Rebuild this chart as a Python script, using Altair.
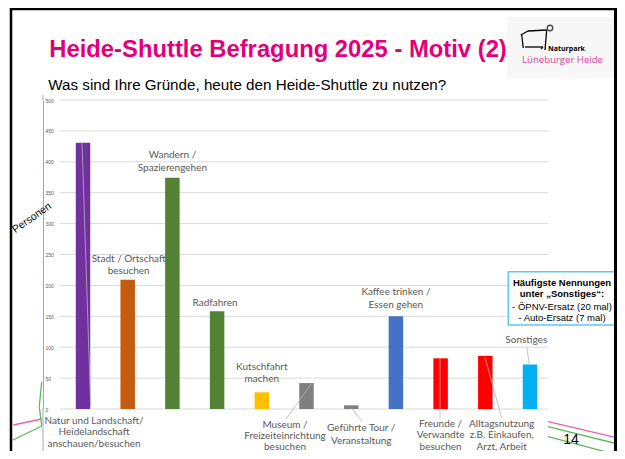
import altair as alt
import pandas as pd

# ---------------- data ----------------
categories = [
    "Natur und Landschaft",
    "Stadt / Ortschaft besuchen",
    "Wandern / Spazierengehen",
    "Radfahren",
    "Kutschfahrt machen",
    "Museum / Freizeiteinrichtung besuchen",
    "Geführte Tour / Veranstaltung",
    "Kaffee trinken / Essen gehen",
    "Freunde / Verwandte besuchen",
    "Alltagsnutzung",
    "Sonstiges",
]
values = [431, 209, 374, 158, 27, 42, 6, 150, 82, 86, 72]
label_texts = [
    "Natur und Landschaft/\nHeidelandschaft\nanschauen/besuchen",
    "Stadt / Ortschaft\nbesuchen",
    "Wandern /\nSpazierengehen",
    "Radfahren",
    "Kutschfahrt\nmachen",
    "Museum /\nFreizeiteinrichtung\nbesuchen",
    "Geführte Tour /\nVeranstaltung",
    "Kaffee trinken /\nEssen gehen",
    "Freunde /\nVerwandte\nbesuchen",
    "Alltagsnutzung\nz.B. Einkaufen,\nArzt, Arbeit",
    "Sonstiges",
]
y_ticks = [0, 50, 100, 150, 200, 250, 300, 350, 400, 450, 500]
title_text = "Heide-Shuttle Befragung 2025 - Motiv (2)"
subtitle_text = "Was sind Ihre Gründe, heute den Heide-Shuttle zu nutzen?"
box_lines_bold = ["Häufigste Nennungen", "unter „Sonstiges“:"]
box_lines = ["- ÖPNV-Ersatz (20 mal)", "- Auto-Ersatz (7 mal)"]

# ---------------- style / layout ----------------
bar_colors = ["#7030a0", "#c55a11", "#548235", "#548235", "#ffc000", "#7f7f7f",
              "#7f7f7f", "#4472c4", "#ff0000", "#ff0000", "#00b0f0"]
# (dx px, anchor 'top' of bar or 'base', dy px, line height)
label_layout = [
    (11, "base", 6.5, 11.8), (1, "top", -26.3, 12.7), (0, "top", -27.4, 12.7), (-2, "top", -13.2, 12.7),
    (0, "top", -30.8, 12.7), (-21.5, "base", 11.0, 11.0), (10, "base", 14.3, 12.4), (0, "top", -29.1, 12.7),
    (0, "base", 10.0, 11.3), (16.4, "base", 10.0, 11.3), (-3.7, "top", -29.7, 12.7),
]
W, H = 609, 443
PINK = "#e2007a"
LABEL_GRAY = "#595959"

xsc = alt.Scale(domain=categories, range=[52.65, 544.35], paddingInner=0.676, paddingOuter=0.338)
ysc = alt.Scale(domain=[0, 500], range=[401, 92])
yax = alt.Axis(
    orient="left", offset=-35, values=y_ticks, domain=True, domainColor="#a6a6a6",
    ticks=False, labelAlign="left", labelPadding=-2, labelFontSize=5,
    labelColor=LABEL_GRAY, labelFont="Liberation Sans", grid=False, title=None)

bars_df = pd.DataFrame({"cat": categories, "v": values})

# grid
grid = alt.Chart(pd.DataFrame({"v": y_ticks})).mark_rule(color="#d9d9d9", strokeWidth=1).encode(
    y=alt.Y("v:Q", scale=ysc, axis=yax),
    x=alt.value(52), x2=alt.value(540),
)

bars = alt.Chart(bars_df).mark_bar().encode(
    x=alt.X("cat:N", scale=xsc, axis=None, sort=None),
    y=alt.Y("v:Q", scale=ysc, axis=yax),
    color=alt.Color("cat:N", scale=alt.Scale(domain=categories, range=bar_colors), legend=None),
)

layers = [grid, bars]

# category labels
for cat, val, txt_, (dx, anchor, dy, lh) in zip(categories, values, label_texts, label_layout):
    d = pd.DataFrame({"cat": [cat], "v": [val if anchor == "top" else 0], "t": [txt_]})
    layers.append(
        alt.Chart(d).mark_text(
            dx=dx, dy=dy, baseline="top", align="center", lineBreak="\n", lineHeight=lh,
            font="Lato", fontSize=10, color=LABEL_GRAY,
        ).encode(x=alt.X("cat:N", scale=xsc, axis=None), y=alt.Y("v:Q", scale=ysc, axis=yax), text="t:N")
    )

def seg(x1, y1, x2, y2, color, w=1.0):
    return alt.Chart(pd.DataFrame({"a": [0]})).mark_rule(color=color, strokeWidth=w).encode(
        x=alt.value(x1), y=alt.value(y1), x2=alt.value(x2), y2=alt.value(y2))

def txt(x, y, s, size, color="black", weight="normal", font="Liberation Sans", align="left",
        baseline="alphabetic", angle=0):
    kw = dict(fontSize=size, color=color, fontWeight=weight, font=font, align=align, baseline=baseline)
    if angle:
        kw["angle"] = angle
    return alt.Chart(pd.DataFrame({"a": [0]})).mark_text(**kw).encode(
        x=alt.value(x), y=alt.value(y), text=alt.value(s))

# leader lines
LEAD = "#b4b4b4"
for x1, y1, x2, y2 in [(74, 134, 82.7, 399), (303.7, 375.3, 278, 411.3), (343.7, 400.3, 354.3, 413.7),
                       (432, 350, 432, 410), (477, 349.3, 493.7, 410), (518.7, 338.7, 521.3, 356.3)]:
    layers.append(seg(x1, y1, x2, y2, LEAD, 0.8))

# axis line extension
layers.append(seg(35, 401, 35, 443, "#a6a6a6", 1))
layers.append(seg(35, 87, 35, 92, "#a6a6a6", 1))

# axis title
layers.append(txt(24, 210, "Personen", 10.5, align="center", baseline="middle", angle=325))

# titles
layers.append(txt(41.3, 48.7, title_text, 23.8, color=PINK, weight="bold"))
layers.append(txt(40.3, 82, subtitle_text, 15.2))

# info box
box = alt.Chart(pd.DataFrame({"a": [0]})).mark_rect(fill="white", stroke="#5bc8ef", strokeWidth=1.5).encode(
    x=alt.value(500.3), x2=alt.value(622), y=alt.value(263.7), y2=alt.value(317))
layers.append(box)
for i, s in enumerate(box_lines_bold):
    layers.append(txt(554, 274.7 + i * 10.8, s, 9.5, weight="bold", align="center", baseline="middle"))
for i, s in enumerate(box_lines):
    layers.append(txt(554, 298.7 + i * 11.6, s, 9.5, align="center", baseline="middle"))

# logo
logo_bg = alt.Chart(pd.DataFrame({"a": [0]})).mark_rect(fill="#f7f7f7").encode(
    x=alt.value(499), x2=alt.value(608), y=alt.value(9), y2=alt.value(70))
layers.append(logo_bg)
for s in [(512.7, 27, 520, 23), (520, 23, 538.7, 22), (513.7, 27, 515.3, 40), (517, 39, 535, 39),
          (538.7, 22, 537, 42), (535, 39, 533, 41)]:
    layers.append(seg(*s, "black", 1.3))
layers.append(alt.Chart(pd.DataFrame({"a": [0]})).mark_point(shape="circle", size=30, stroke="black",
              strokeWidth=1.3, filled=False).encode(x=alt.value(542), y=alt.value(20)))
layers.append(txt(558.5, 41, "Naturpark", 7, weight="bold", font="Open Sans", align="center", baseline="middle"))
layers.append(txt(554.5, 52, "Lüneburger Heide", 9.6, color="#d4449a", font="Open Sans",
                  align="center", baseline="middle"))

# decorative lines
layers.append(seg(540.3, 413.7, 607, 429.3, "#e8649f", 1.3))
layers.append(seg(540, 418.7, 610, 436, "#5cb85c", 1.3))
layers.append(seg(540, 428.7, 610, 447, "#5cb85c", 1.3))
layers.append(seg(5.3, 417, 33.7, 411, "#e8649f", 1.3))
layers.append(seg(5, 432, 33.7, 418, "#5cb85c", 1.3))
layers.append(seg(33.7, 373.7, 31.3, 398.7, "#5cb85c", 1.3))
layers.append(seg(31.3, 398.7, 33.7, 418, "#5cb85c", 1.3))

# page number
layers.append(txt(563, 432, "14", 14, align="center", baseline="middle"))

# frame
layers.append(seg(3, 0, 3, 443, "black", 2.5))
layers.append(seg(3, 1, 609, 1, "black", 2.5))
layers.append(seg(607.5, 0, 607.5, 443, "black", 3))

chart = alt.layer(*layers).properties(
    width=W, height=H, autosize=alt.AutoSizeParams(type="none"), padding=0, background="white"
).configure_view(stroke=None)

chart.save("out.html", embed_options={"renderer": "svg", "actions": False})
